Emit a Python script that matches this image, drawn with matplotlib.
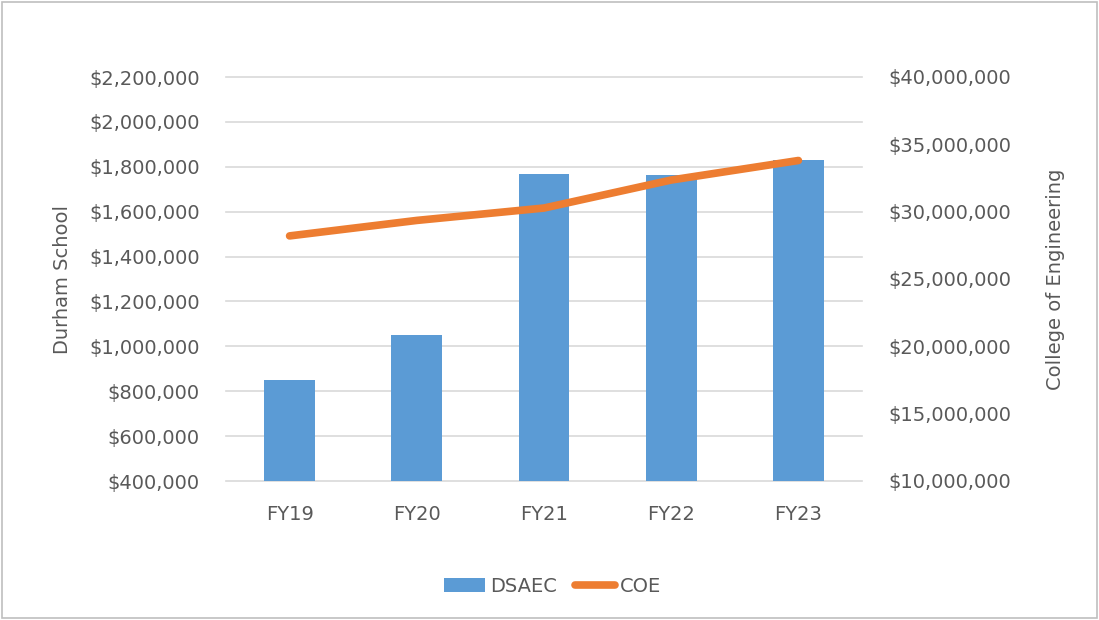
import matplotlib.pyplot as plt
from matplotlib.ticker import FuncFormatter
from matplotlib.patches import Rectangle

plt.rcParams['font.family'] = ['DejaVu Sans']

years = ['FY19', 'FY20', 'FY21', 'FY22', 'FY23']
dsaec = [850000, 1050000, 1768000, 1762000, 1828000]
coe = [28200000, 29350000, 30270000, 32350000, 33800000]

grey = '#595959'
fs = 14

fig = plt.figure(figsize=(10.99, 6.20), dpi=100)
ax = fig.add_axes([226 / 1099, 1 - 481 / 620, 636 / 1099, 404 / 620])
ax2 = ax.twinx()

x = range(len(years))
ax.bar(x, dsaec, width=0.4, color='#5b9bd5', label='DSAEC', zorder=2)
ax2.plot(x, coe, color='#ed7d31', linewidth=5.5, solid_capstyle='round',
         solid_joinstyle='round', label='COE', zorder=3)

ax.set_ylim(400000, 2200000)
ax.set_yticks(range(400000, 2200001, 200000))
ax2.set_ylim(10000000, 40000000)
ax2.set_yticks(range(10000000, 40000001, 5000000))
ax.set_xlim(-0.5, 4.5)
ax.set_xticks(list(x))
ax.set_xticklabels(years)

fmt = FuncFormatter(lambda v, p: '${:,.0f}'.format(v))
ax.yaxis.set_major_formatter(fmt)
ax2.yaxis.set_major_formatter(fmt)

ax.grid(axis='y', color='#d9d9d9', linewidth=1.2, zorder=0)
for gl in ax.get_ygridlines():
    gl.set_clip_on(False)
ax.set_axisbelow(True)
for a in (ax, ax2):
    for s in a.spines.values():
        s.set_visible(False)
    a.tick_params(length=0, labelsize=fs, colors=grey)
ax.tick_params(axis='y', pad=19)
ax2.tick_params(axis='y', pad=19)
ax.tick_params(axis='x', pad=17)

ax.set_ylabel('Durham School', fontsize=fs, color=grey, labelpad=12)
ax2.set_ylabel('College of Engineering', fontsize=fs, color=grey, labelpad=25)

h1, l1 = ax.get_legend_handles_labels()
h2, l2 = ax2.get_legend_handles_labels()
fig.legend(h1 + h2, l1 + l2, loc='center', bbox_to_anchor=(553 / 1099, 1 - 586 / 620),
           ncol=2, frameon=False, fontsize=fs, labelcolor=grey,
           handlelength=2.1, handletextpad=0.25, columnspacing=0.9)

fig.patches.append(Rectangle((0.002, 0.004), 0.996, 0.993, transform=fig.transFigure,
                             fill=False, edgecolor='#bfbfbf', linewidth=1.2))

plt.savefig('out.png', dpi=100)
